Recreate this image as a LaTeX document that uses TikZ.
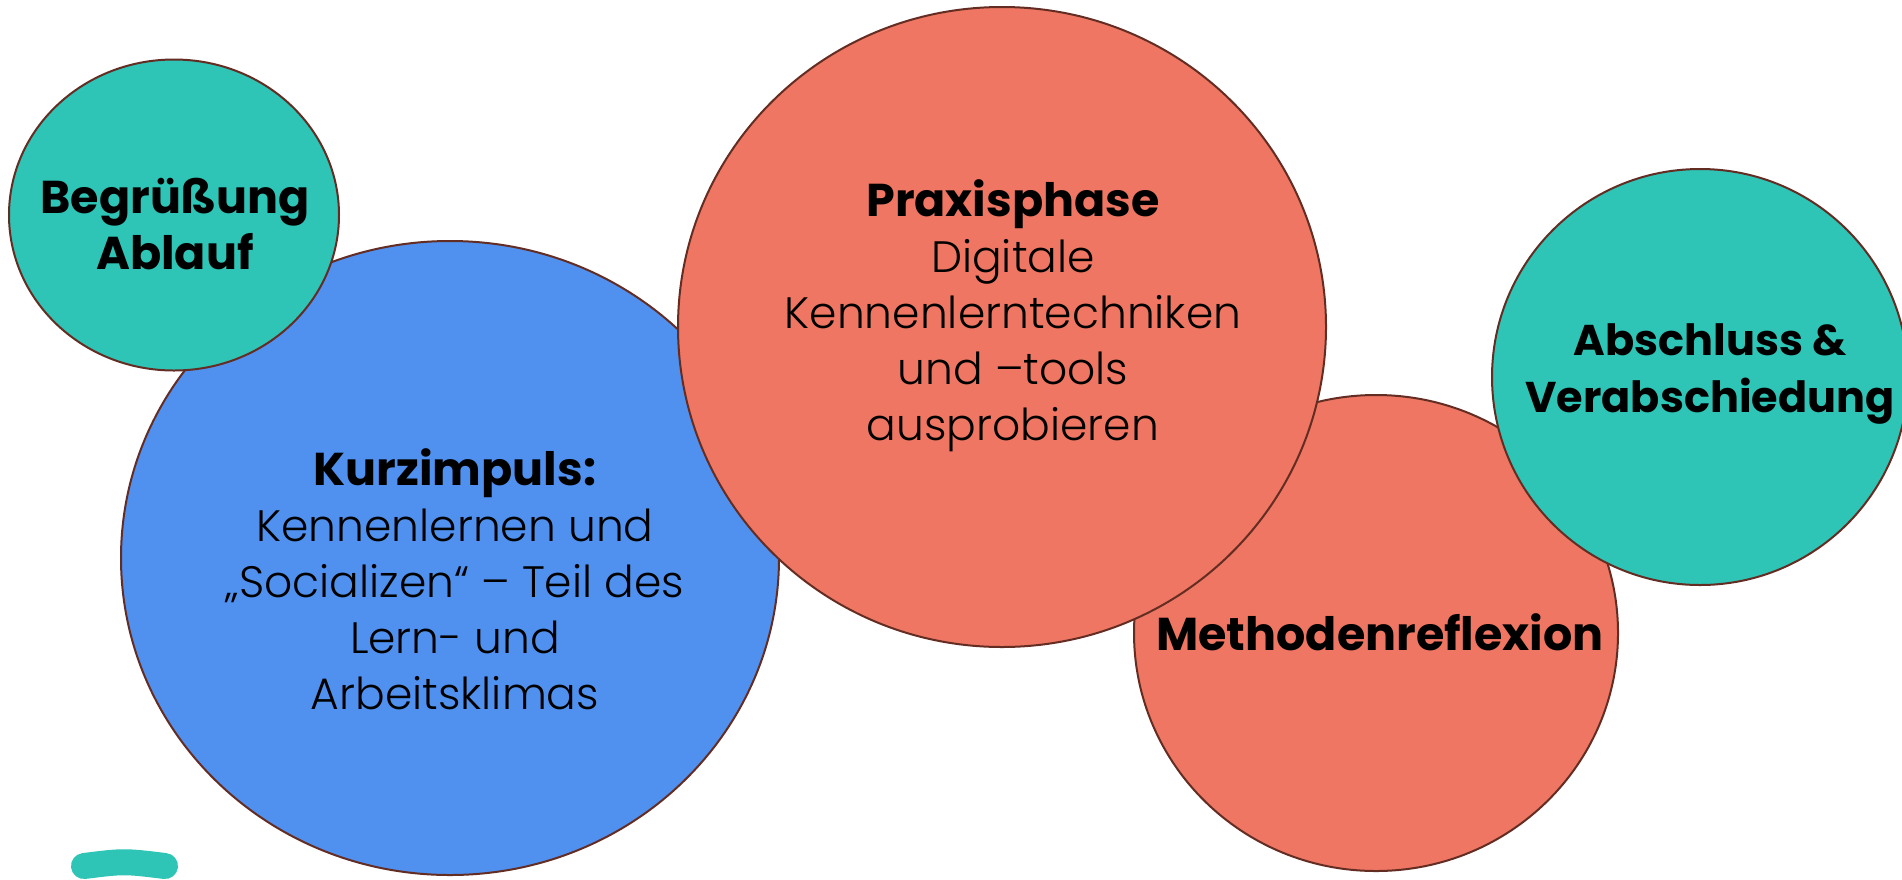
\documentclass[tikz,border=0pt]{standalone}
\usepackage{fontspec}
\setmainfont{Poppins}[UprightFont={* Light}, BoldFont={* Bold}]
\usetikzlibrary{shapes.geometric}
\definecolor{tealc}{RGB}{46,196,182}
\definecolor{bluec}{RGB}{80,145,240}
\definecolor{coralc}{RGB}{238,118,98}
\definecolor{edgec}{RGB}{100,45,35}
\tikzset{
  bubble/.style={ellipse, draw=edgec, line width=2pt, inner sep=0pt},
  lbl/.style={align=center, text=black, font=\fontsize{44}{56}\selectfont},
  hd/.style={font=\fontsize{46}{56}\selectfont\bfseries},
}
\begin{document}
\begin{tikzpicture}[x=1pt,y=-1pt]
\useasboundingbox (0,0) rectangle (1902,879);
\clip (0,0) rectangle (1902,879);
\fill[white] (0,0) rectangle (1902,879);
% shapes
\node[bubble, fill=bluec, minimum width=658pt, minimum height=634pt] (kurz) at (450,558) {};
\node[bubble, fill=tealc, minimum width=330pt, minimum height=311pt] (begr) at (174,215) {};
\node[bubble, fill=coralc, minimum width=484pt, minimum height=476pt] (meth) at (1376,633) {};
\node[bubble, fill=coralc, minimum width=648pt, minimum height=640pt] (prax) at (1002,327) {};
\node[bubble, fill=tealc, minimum width=416pt, minimum height=416pt] (absch) at (1700,377) {};
\draw[tealc, line width=26pt, line cap=round] (84,866) .. controls (124,861) .. (165,866);
% texts
\node[lbl, hd] (tbegr) at (175,224) {Begrüßung\\Ablauf};
\node[lbl] (tkurz) at (455,579) {{\fontsize{46}{56}\selectfont\bfseries Kurzimpuls:}\\Kennenlernen und\\„Socializen“ – Teil des\\Lern- und\\Arbeitsklimas};
\node[lbl] (tprax) at (1013,316) {{\fontsize{46}{56}\selectfont\bfseries Praxisphase}\\Digitale\\Kennenlerntechniken\\und –tools\\ausprobieren};
\node[lbl, hd] (tmeth) at (1380,632) {Methodenreflexion};
\node[lbl, font=\fontsize{43}{57}\selectfont\bfseries] (tabsch) at (1710,374) {Abschluss \&\\Verabschiedung};
\end{tikzpicture}
\end{document}
